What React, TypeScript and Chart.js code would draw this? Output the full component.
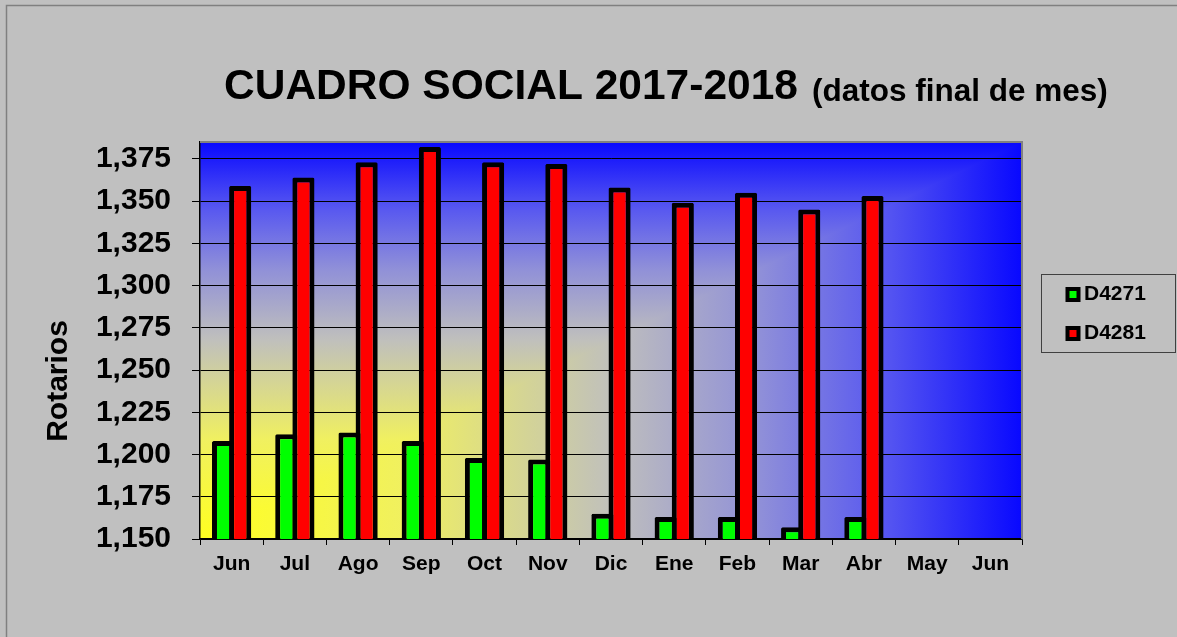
import React, { useEffect, useRef } from 'react';
import { Chart, registerables } from 'chart.js';

Chart.register(...registerables);

const categories = ['Jun', 'Jul', 'Ago', 'Sep', 'Oct', 'Nov', 'Dic', 'Ene', 'Feb', 'Mar', 'Abr', 'May', 'Jun'];
const seriesNames = ['D4271', 'D4281'];
const d4271 = [1208, 1212, 1213, 1208, 1198, 1197, 1165, 1163, 1163, 1157, 1163, null, null];
const d4281 = [1359, 1364, 1373, 1382, 1373, 1372, 1358, 1349, 1355, 1345, 1353, null, null];
const yTicks = [1150, 1175, 1200, 1225, 1250, 1275, 1300, 1325, 1350, 1375];
const yMin = 1150;
const yMax = 1385;
const titleMain = 'CUADRO SOCIAL 2017-2018';
const titleSub = '(datos final de mes)';
const yTitle = 'Rotarios';

const FONT = '"Liberation Sans", Arial, Helvetica, sans-serif';
const GREEN = '#00ff00';
const RED = '#ff0000';

const decorPlugin = {
  id: 'decor',
  beforeDraw(chart: any) {
    const { ctx, width, height, chartArea: a } = chart;
    ctx.save();
    ctx.fillStyle = '#c0c0c0';
    ctx.fillRect(0, 0, width, height);
    // outer frame
    ctx.strokeStyle = '#808080';
    ctx.lineWidth = 1.5;
    ctx.strokeRect(6.5, 5.5, width + 10, height + 10);

    const stops: [number, string][] = [
      [0, '#ffff20'],
      [0.25, '#f0f060'],
      [0.5, '#c0c0bc'],
      [0.68, '#9090d8'],
      [0.83, '#5858f0'],
      [1, '#0808ff'],
    ];
    // horizontal part (lower-right triangle)
    let g = ctx.createLinearGradient(a.left, 0, a.right, 0);
    stops.forEach(([o, c]) => g.addColorStop(o, c));
    ctx.fillStyle = g;
    ctx.fillRect(a.left, a.top, a.right - a.left, a.bottom - a.top);
    // vertical part (upper-left triangle)
    ctx.save();
    ctx.beginPath();
    ctx.moveTo(a.left, a.bottom);
    ctx.lineTo(a.right, a.top);
    ctx.lineTo(a.left, a.top);
    ctx.closePath();
    ctx.clip();
    g = ctx.createLinearGradient(0, a.bottom, 0, a.top);
    stops.forEach(([o, c]) => g.addColorStop(o, c));
    ctx.fillStyle = g;
    ctx.fillRect(a.left, a.top, a.right - a.left, a.bottom - a.top);
    ctx.restore();
    ctx.restore();
  },
  afterDraw(chart: any) {
    const { ctx, chartArea: a } = chart;
    ctx.save();
    // plot border top/right
    ctx.strokeStyle = '#808080';
    ctx.lineWidth = 2;
    ctx.beginPath();
    ctx.moveTo(a.left, a.top);
    ctx.lineTo(a.right, a.top);
    ctx.lineTo(a.right, a.bottom);
    ctx.stroke();

    // title
    ctx.fillStyle = '#000';
    ctx.textBaseline = 'alphabetic';
    ctx.textAlign = 'left';
    ctx.font = `bold 42.5px ${FONT}`;
    ctx.fillText(titleMain, 224, 99);
    ctx.font = `bold 31.5px ${FONT}`;
    ctx.fillText(titleSub, 812, 101);

    // y title
    ctx.save();
    ctx.translate(67, 381);
    ctx.rotate(-Math.PI / 2);
    ctx.font = `bold 30px ${FONT}`;
    ctx.textAlign = 'center';
    ctx.fillText(yTitle, 0, 0);
    ctx.restore();

    // legend
    const lx = 1041.5, ly = 274.5, lw = 134, lh = 78;
    ctx.strokeStyle = '#404040';
    ctx.lineWidth = 1;
    ctx.strokeRect(lx, ly, lw, lh);
    const colors = [GREEN, RED];
    const rows = [294.5, 333.5];
    ctx.font = `bold 21px ${FONT}`;
    ctx.textBaseline = 'middle';
    seriesNames.forEach((name, i) => {
      const cy = rows[i];
      ctx.fillStyle = '#000';
      ctx.fillRect(1065.5, cy - 7.5, 15, 15);
      ctx.fillStyle = colors[i];
      ctx.fillRect(1069.5, cy - 3.5, 7, 7);
      ctx.fillStyle = '#000';
      ctx.fillText(name, 1084, cy);
    });
    ctx.restore();
  },
};

export default function App() {
  const ref = useRef<HTMLCanvasElement | null>(null);
  useEffect(() => {
    if (!ref.current) return;
    Chart.defaults.font.family = FONT;
    const chart = new Chart(ref.current, {
      type: 'bar',
      data: {
        labels: categories,
        datasets: [
          {
            label: seriesNames[0],
            data: d4271,
            backgroundColor: GREEN,
            borderColor: '#000',
            borderWidth: 5,
            borderSkipped: false,
            borderRadius: 1.5,
          },
          {
            label: seriesNames[1],
            data: d4281,
            backgroundColor: RED,
            borderColor: '#000',
            borderWidth: 5,
            borderSkipped: false,
            borderRadius: 1.5,
          },
        ],
      },
      options: {
        responsive: false,
        animation: false,
        devicePixelRatio: 1,
        layout: { padding: { left: 0, right: 155, top: 142, bottom: 0 } },
        datasets: { bar: { categoryPercentage: 0.5425, barPercentage: 1.29 } },
        plugins: {
          legend: { display: false },
          title: { display: false },
          tooltip: { enabled: false },
        },
        scales: {
          x: {
            offset: true,
            grid: { offset: true, drawOnChartArea: false, drawTicks: true, tickLength: 6, color: '#000' },
            border: { color: '#000', width: 1.5 },
            ticks: {
              color: '#000',
              font: { size: 21, weight: 'bold', family: FONT },
              padding: 7,
              maxRotation: 0,
              autoSkip: false,
            },
            afterFit: (s: any) => {
              s.height = 98;
            },
          },
          y: {
            min: yMin,
            max: yMax,
            afterBuildTicks: (s: any) => {
              s.ticks = yTicks.map((v) => ({ value: v }));
            },
            grid: { color: '#000', lineWidth: 1, tickLength: 8, drawTicks: true },
            border: { color: '#000', width: 1.5 },
            ticks: {
              color: '#000',
              font: { size: 30, weight: 'bold', family: FONT },
              padding: 21,
              callback: (v: any) => Number(v).toLocaleString('en-US'),
            },
            afterFit: (s: any) => {
              s.width = 200;
            },
          },
        },
      } as any,
      plugins: [decorPlugin],
    });
    return () => chart.destroy();
  }, []);
  return (
    <div style={{ position: 'absolute', left: 0, top: 0, width: 1177, height: 637 }}>
      <canvas ref={ref} width={1177} height={637} style={{ display: 'block' }} />
    </div>
  );
}
